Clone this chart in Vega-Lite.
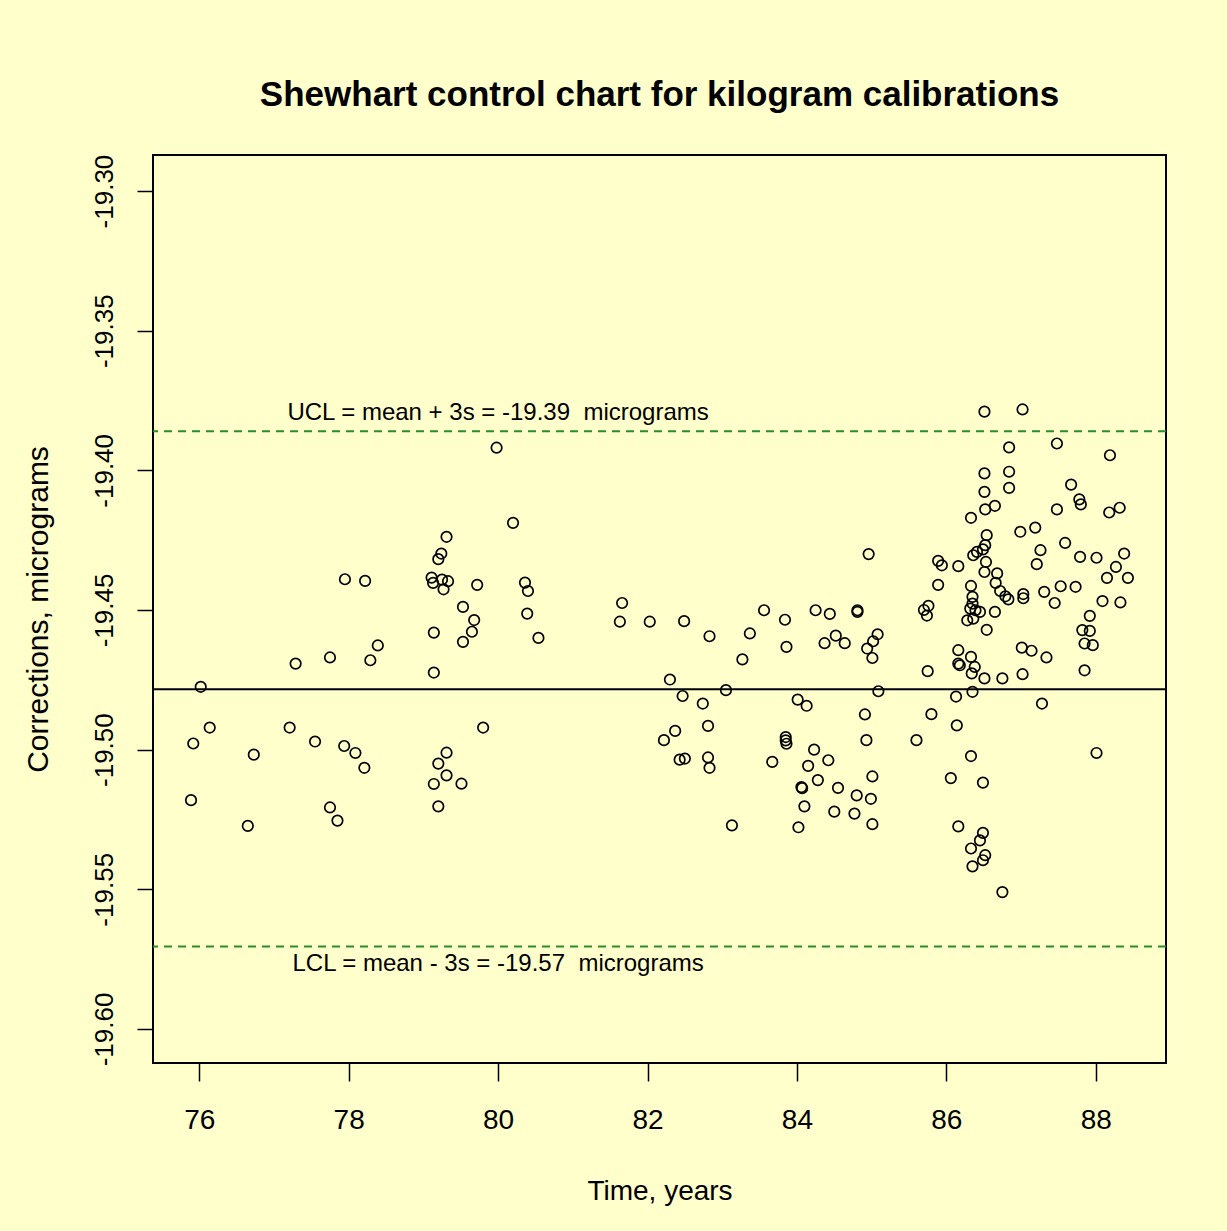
{
  "$schema": "https://vega.github.io/schema/vega-lite/v6.json",
  "autosize": {"type": "none"},
  "width": 1013,
  "height": 908,
  "padding": {"left": 153, "top": 155, "right": 61, "bottom": 168},
  "background": "#FFFFCC",
  "config": {
    "view": {"stroke": "#000000", "strokeWidth": 2, "fill": "#FFFFCC"},
    "locale": {"number": {"decimal": ".", "thousands": ",", "grouping": [3], "currency": ["$", ""], "minus": "-"}},
    "title": {"font": "Liberation Sans, sans-serif", "fontWeight": "bold", "fontSize": 35, "color": "#000000"}
  },
  "title": {
    "text": "Shewhart control chart for kilogram calibrations",
    "anchor": "middle",
    "frame": "group",
    "baseline": "alphabetic",
    "offset": 13
  },
  "datasets": {
    "calibrations": [
      {"t": 75.89, "corr": -19.5181}, {"t": 75.92, "corr": -19.4978}, {"t": 76.02, "corr": -19.4775}, {"t": 76.14, "corr": -19.4921},
      {"t": 76.65, "corr": -19.5273}, {"t": 76.73, "corr": -19.5018}, {"t": 77.21, "corr": -19.4921}, {"t": 77.29, "corr": -19.4692},
      {"t": 77.55, "corr": -19.4971}, {"t": 77.75, "corr": -19.4670}, {"t": 77.75, "corr": -19.5207}, {"t": 77.85, "corr": -19.5254},
      {"t": 77.94, "corr": -19.4987}, {"t": 77.95, "corr": -19.4390}, {"t": 78.09, "corr": -19.5012}, {"t": 78.21, "corr": -19.5065},
      {"t": 78.22, "corr": -19.4396}, {"t": 78.29, "corr": -19.4680}, {"t": 78.39, "corr": -19.4627},
      {"t": 79.14, "corr": -19.4581}, {"t": 79.14, "corr": -19.4724}, {"t": 79.31, "corr": -19.4238}, {"t": 79.24, "corr": -19.4298},
      {"t": 79.20, "corr": -19.4318}, {"t": 79.11, "corr": -19.4384}, {"t": 79.13, "corr": -19.4403}, {"t": 79.25, "corr": -19.4391},
      {"t": 79.33, "corr": -19.4397}, {"t": 79.27, "corr": -19.4426}, {"t": 79.72, "corr": -19.4410}, {"t": 79.53, "corr": -19.4489},
      {"t": 79.68, "corr": -19.4536}, {"t": 79.65, "corr": -19.4578}, {"t": 79.53, "corr": -19.4614}, {"t": 79.31, "corr": -19.5011},
      {"t": 79.20, "corr": -19.5050}, {"t": 79.31, "corr": -19.5092}, {"t": 79.14, "corr": -19.5123}, {"t": 79.51, "corr": -19.5122},
      {"t": 79.20, "corr": -19.5203}, {"t": 79.80, "corr": -19.4921}, {"t": 79.98, "corr": -19.3919}, {"t": 80.20, "corr": -19.4188},
      {"t": 80.36, "corr": -19.4402}, {"t": 80.40, "corr": -19.4432}, {"t": 80.39, "corr": -19.4513}, {"t": 80.54, "corr": -19.4600},
      {"t": 81.66, "corr": -19.4475}, {"t": 81.63, "corr": -19.4542}, {"t": 82.03, "corr": -19.4542}, {"t": 82.49, "corr": -19.4540},
      {"t": 82.83, "corr": -19.4594}, {"t": 83.27, "corr": -19.4677}, {"t": 83.37, "corr": -19.4584}, {"t": 83.56, "corr": -19.4501},
      {"t": 83.84, "corr": -19.4535}, {"t": 83.86, "corr": -19.4632}, {"t": 82.30, "corr": -19.4749}, {"t": 82.47, "corr": -19.4808},
      {"t": 83.05, "corr": -19.4787}, {"t": 82.74, "corr": -19.4835}, {"t": 82.81, "corr": -19.4915}, {"t": 82.37, "corr": -19.4933},
      {"t": 82.22, "corr": -19.4966}, {"t": 82.43, "corr": -19.5036}, {"t": 82.50, "corr": -19.5032}, {"t": 82.81, "corr": -19.5028},
      {"t": 82.83, "corr": -19.5065}, {"t": 83.13, "corr": -19.5271}, {"t": 83.67, "corr": -19.5044}, {"t": 83.85, "corr": -19.4955},
      {"t": 83.85, "corr": -19.4967}, {"t": 83.86, "corr": -19.4979},
      {"t": 84.01, "corr": -19.4821}, {"t": 84.13, "corr": -19.4843}, {"t": 84.23, "corr": -19.5000}, {"t": 84.42, "corr": -19.5038},
      {"t": 84.15, "corr": -19.5058}, {"t": 84.28, "corr": -19.5109}, {"t": 84.06, "corr": -19.5134}, {"t": 84.07, "corr": -19.5138},
      {"t": 84.55, "corr": -19.5137}, {"t": 84.10, "corr": -19.5203}, {"t": 84.50, "corr": -19.5222}, {"t": 84.02, "corr": -19.5278},
      {"t": 84.25, "corr": -19.4501}, {"t": 84.44, "corr": -19.4514}, {"t": 84.52, "corr": -19.4592}, {"t": 84.37, "corr": -19.4619},
      {"t": 84.64, "corr": -19.4619}, {"t": 84.81, "corr": -19.4501}, {"t": 84.81, "corr": -19.4507}, {"t": 84.80, "corr": -19.5164},
      {"t": 84.77, "corr": -19.5229}, {"t": 84.96, "corr": -19.4300}, {"t": 85.08, "corr": -19.4587}, {"t": 85.02, "corr": -19.4612},
      {"t": 84.94, "corr": -19.4638}, {"t": 85.01, "corr": -19.4672}, {"t": 85.09, "corr": -19.4791}, {"t": 84.91, "corr": -19.4874},
      {"t": 84.93, "corr": -19.4966}, {"t": 85.01, "corr": -19.5096}, {"t": 84.99, "corr": -19.5176}, {"t": 85.01, "corr": -19.5267},
      {"t": 85.60, "corr": -19.4966}, {"t": 85.70, "corr": -19.4500}, {"t": 85.76, "corr": -19.4485}, {"t": 85.74, "corr": -19.4520},
      {"t": 85.75, "corr": -19.4719}, {"t": 85.80, "corr": -19.4873}, {"t": 85.89, "corr": -19.4324}, {"t": 85.94, "corr": -19.4340},
      {"t": 85.89, "corr": -19.4410}, {"t": 86.06, "corr": -19.5102}, {"t": 86.13, "corr": -19.4810}, {"t": 86.14, "corr": -19.4913},
      {"t": 86.16, "corr": -19.5275}, {"t": 86.16, "corr": -19.4343}, {"t": 86.16, "corr": -19.4644}, {"t": 86.16, "corr": -19.4692},
      {"t": 86.18, "corr": -19.4698},
      {"t": 86.33, "corr": -19.4170}, {"t": 86.36, "corr": -19.4304}, {"t": 86.41, "corr": -19.4292}, {"t": 86.49, "corr": -19.4283},
      {"t": 86.52, "corr": -19.4268}, {"t": 86.54, "corr": -19.4232}, {"t": 86.53, "corr": -19.4328}, {"t": 86.51, "corr": -19.4364},
      {"t": 86.33, "corr": -19.4414}, {"t": 86.35, "corr": -19.4453}, {"t": 86.35, "corr": -19.4477}, {"t": 86.32, "corr": -19.4495},
      {"t": 86.39, "corr": -19.4501}, {"t": 86.45, "corr": -19.4507}, {"t": 86.28, "corr": -19.4537}, {"t": 86.36, "corr": -19.4531},
      {"t": 86.54, "corr": -19.4571}, {"t": 86.33, "corr": -19.4668}, {"t": 86.38, "corr": -19.4704}, {"t": 86.34, "corr": -19.4727},
      {"t": 86.51, "corr": -19.4745}, {"t": 86.35, "corr": -19.4793}, {"t": 86.33, "corr": -19.5023}, {"t": 86.49, "corr": -19.5118},
      {"t": 86.49, "corr": -19.5298}, {"t": 86.45, "corr": -19.5325}, {"t": 86.33, "corr": -19.5354}, {"t": 86.52, "corr": -19.5378},
      {"t": 86.49, "corr": -19.5396}, {"t": 86.35, "corr": -19.5418}, {"t": 86.51, "corr": -19.3790}, {"t": 86.51, "corr": -19.4011},
      {"t": 86.51, "corr": -19.4077}, {"t": 86.52, "corr": -19.4140}, {"t": 86.65, "corr": -19.4127}, {"t": 86.68, "corr": -19.4369},
      {"t": 86.66, "corr": -19.4403}, {"t": 86.65, "corr": -19.4507}, {"t": 86.72, "corr": -19.4432}, {"t": 86.79, "corr": -19.4451},
      {"t": 86.83, "corr": -19.4462}, {"t": 86.75, "corr": -19.4745}, {"t": 86.75, "corr": -19.5510}, {"t": 86.84, "corr": -19.3918},
      {"t": 86.84, "corr": -19.4005}, {"t": 86.84, "corr": -19.4063},
      {"t": 87.02, "corr": -19.3782}, {"t": 87.48, "corr": -19.3904}, {"t": 88.19, "corr": -19.3946}, {"t": 87.67, "corr": -19.4051},
      {"t": 87.78, "corr": -19.4104}, {"t": 87.80, "corr": -19.4122}, {"t": 87.48, "corr": -19.4140}, {"t": 88.18, "corr": -19.4151},
      {"t": 88.32, "corr": -19.4134}, {"t": 87.19, "corr": -19.4205}, {"t": 86.99, "corr": -19.4220}, {"t": 87.59, "corr": -19.4260},
      {"t": 87.26, "corr": -19.4286}, {"t": 87.21, "corr": -19.4336}, {"t": 87.79, "corr": -19.4310}, {"t": 88.01, "corr": -19.4313},
      {"t": 88.38, "corr": -19.4298}, {"t": 88.27, "corr": -19.4346}, {"t": 88.15, "corr": -19.4385}, {"t": 88.43, "corr": -19.4385},
      {"t": 87.53, "corr": -19.4415}, {"t": 87.73, "corr": -19.4417}, {"t": 87.31, "corr": -19.4435}, {"t": 87.45, "corr": -19.4475},
      {"t": 88.09, "corr": -19.4468}, {"t": 88.33, "corr": -19.4473}, {"t": 87.03, "corr": -19.4443}, {"t": 87.03, "corr": -19.4458},
      {"t": 87.92, "corr": -19.4521}, {"t": 87.82, "corr": -19.4572}, {"t": 87.92, "corr": -19.4575}, {"t": 87.85, "corr": -19.4620},
      {"t": 87.96, "corr": -19.4626}, {"t": 87.01, "corr": -19.4635}, {"t": 87.14, "corr": -19.4646}, {"t": 87.34, "corr": -19.4670},
      {"t": 87.02, "corr": -19.4730}, {"t": 87.85, "corr": -19.4716}, {"t": 87.28, "corr": -19.4835}, {"t": 88.01, "corr": -19.5012}
    ],
    "centre": [{"level": -19.4784}],
    "limits": [{"limit": "UCL", "level": -19.3860}, {"limit": "LCL", "level": -19.5705}],
    "notes": [
      {"t": 80.0, "corr": -19.3795, "label": "UCL = mean + 3s = -19.39 \u00a0micrograms"},
      {"t": 80.0, "corr": -19.5769, "label": "LCL = mean - 3s = -19.57 \u00a0micrograms"}
    ]
  },
  "layer": [
    {
      "data": {"name": "calibrations"},
      "mark": {"type": "point", "shape": "circle", "filled": false, "stroke": "#000000", "strokeWidth": 1.7, "size": 110, "opacity": 1},
      "encoding": {
        "x": {
          "field": "t", "type": "quantitative",
          "scale": {"domain": [75.381, 88.94], "nice": false, "zero": false},
          "axis": {
            "title": "Time, years",
            "values": [76, 78, 80, 82, 84, 86, 88],
            "format": "d",
            "grid": false, "domain": false,
            "ticks": true, "tickSize": 18, "tickWidth": 1.5, "tickColor": "#000000",
            "labelFont": "Liberation Sans, sans-serif", "labelFontSize": 28, "labelColor": "#000000",
            "labelPadding": 25, "labelFlush": false,
            "titleFont": "Liberation Sans, sans-serif", "titleFontSize": 28, "titleFontWeight": "normal", "titleColor": "#000000",
            "titleBaseline": "alphabetic", "titleY": 136
          }
        },
        "y": {
          "field": "corr", "type": "quantitative",
          "scale": {"domain": [-19.6122, -19.2871], "nice": false, "zero": false},
          "axis": {
            "title": "Corrections, micrograms",
            "values": [-19.6, -19.55, -19.5, -19.45, -19.4, -19.35, -19.3],
            "format": ".2f",
            "grid": false, "domain": false,
            "ticks": true, "tickSize": 16, "tickWidth": 1.5, "tickColor": "#000000",
            "labelFont": "Liberation Sans, sans-serif", "labelFontSize": 26, "labelColor": "#000000",
            "labelAngle": 270, "labelAlign": "center", "labelBaseline": "alphabetic", "labelPadding": 25, "labelFlush": false,
            "titleFont": "Liberation Sans, sans-serif", "titleFontSize": 30, "titleFontWeight": "normal", "titleColor": "#000000",
            "titleAngle": 270, "titleBaseline": "alphabetic", "titleX": -106
          }
        }
      }
    },
    {
      "data": {"name": "centre"},
      "mark": {"type": "rule", "stroke": "#000000", "strokeWidth": 2},
      "encoding": {"y": {"field": "level", "type": "quantitative"}}
    },
    {
      "data": {"name": "limits"},
      "mark": {"type": "rule", "stroke": "#2B8C2B", "strokeWidth": 2, "strokeDash": [8, 6]},
      "encoding": {"y": {"field": "level", "type": "quantitative"}}
    },
    {
      "data": {"name": "notes"},
      "mark": {"type": "text", "align": "center", "baseline": "middle", "font": "Liberation Sans, sans-serif", "fontSize": 24, "color": "#000000"},
      "encoding": {
        "x": {"field": "t", "type": "quantitative"},
        "y": {"field": "corr", "type": "quantitative"},
        "text": {"field": "label"}
      }
    }
  ]
}
